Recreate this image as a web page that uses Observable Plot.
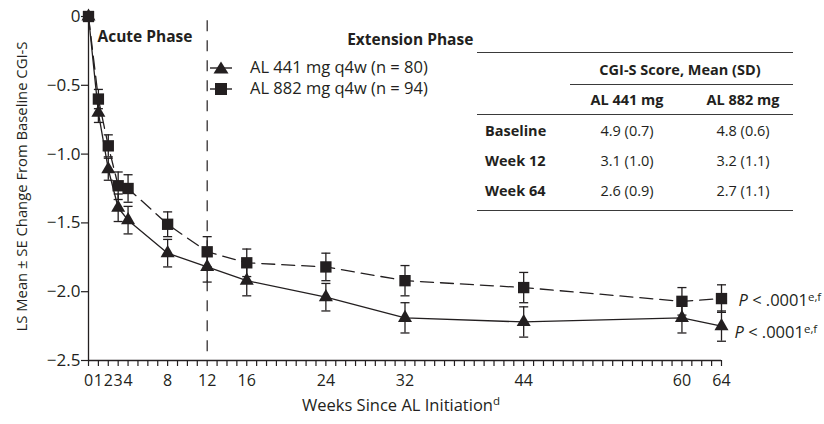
<!DOCTYPE html>
<html><head><meta charset="utf-8">
<script src="https://cdn.jsdelivr.net/npm/d3@7"></script>
<script src="https://cdn.jsdelivr.net/npm/@observablehq/plot@0.6"></script>
<style>
body{margin:0;background:#fff;font-family:"Open Sans",sans-serif;color:#231f20}
#wrap{position:relative;width:824px;height:424px;overflow:hidden}
.ov{position:absolute;white-space:nowrap;line-height:1}
.rule{position:absolute;height:0;border-top:1.6px solid #3a3a3a}
</style></head><body><div id="wrap"></div>
<script>
// ---- data ----
const weeks = [0, 1, 2, 3, 4, 8, 12, 16, 24, 32, 44, 60, 64];
const al441Mean = [0, -0.70, -1.11, -1.39, -1.48, -1.72, -1.82, -1.92, -2.04, -2.19, -2.22, -2.19, -2.25];
const al441SE   = [0, 0.07, 0.08, 0.10, 0.10, 0.10, 0.11, 0.11, 0.10, 0.11, 0.11, 0.11, 0.11];
const al882Mean = [0, -0.60, -0.94, -1.23, -1.25, -1.51, -1.71, -1.79, -1.82, -1.92, -1.97, -2.07, -2.05];
const al882SE   = [0, 0.07, 0.08, 0.10, 0.10, 0.09, 0.11, 0.10, 0.10, 0.11, 0.11, 0.10, 0.10];
const xTickLabels = [0, 1, 2, 3, 4, 8, 12, 16, 24, 32, 44, 60, 64];
const xMinorTicks = d3.range(0, 65);
const yTicks = [0, -0.5, -1, -1.5, -2, -2.5];
const seriesNames = ["AL 441 mg q4w (n = 80)", "AL 882 mg q4w (n = 94)"];
const phaseLabels = ["Acute Phase", "Extension Phase"];
const pLabels = ["P < .0001", "P < .0001"];
const xTitle = "Weeks Since AL Initiation";
const yTitle = "LS Mean \u00b1 SE Change From Baseline CGI-S";
const tableTitle = "CGI-S Score, Mean (SD)";
const tableCols = ["AL 441 mg", "AL 882 mg"];
const tableRows = ["Baseline", "Week 12", "Week 64"];
const table441 = ["4.9 (0.7)", "3.1 (1.0)", "2.6 (0.9)"];
const table882 = ["4.8 (0.6)", "3.2 (1.1)", "2.7 (1.1)"];

const ink = "#231f20";
const mk = (means, ses) => weeks.map((w, i) => ({week: w, mean: means[i], se: ses[i], lo: means[i] - ses[i], hi: means[i] + ses[i]}));
const d441 = mk(al441Mean, al441SE);
const d882 = mk(al882Mean, al882SE);
const e441 = d441.filter(d => d.se > 0);
const e882 = d882.filter(d => d.se > 0);
const cap = {draw(ctx, size) { const w = Math.sqrt(size) / 2; ctx.moveTo(-w, 0); ctx.lineTo(w, 0); }};

const errMarks = (e) => [
  Plot.ruleX(e, {x: "week", y1: "lo", y2: "hi", stroke: ink, strokeWidth: 1.3}),
  Plot.dot(e, {x: "week", y: "lo", symbol: cap, r: 5.1, stroke: ink, strokeWidth: 1.3, fill: "none"}),
  Plot.dot(e, {x: "week", y: "hi", symbol: cap, r: 5.1, stroke: ink, strokeWidth: 1.3, fill: "none"})
];

const chart = Plot.plot({
  width: 824, height: 424,
  marginLeft: 88, marginRight: 103, marginTop: 16, marginBottom: 64,
  x: {domain: [0, 64]},
  y: {domain: [-2.5, 0]},
  style: {fontFamily: "Open Sans", fontSize: "16px", color: ink, background: "white", overflow: "visible"},
  marks: [
    Plot.ruleX([12], {y1: -0.03, y2: -2.5, stroke: ink, strokeWidth: 1.2, strokeDasharray: "11,9"}),
    Plot.axisX(xMinorTicks, {tickSize: 6, tickFormat: () => "", label: null, stroke: ink, strokeWidth: 1.2}),
    Plot.axisX(xTickLabels, {tickSize: 0, tickPadding: 14, fontSize: 16, label: null, fill: ink}),
    Plot.axisY(yTicks, {tickSize: 7, tickPadding: 1, fontSize: 17, label: null, stroke: ink, strokeWidth: 1.2, fill: ink,
      tickFormat: d => d === 0 ? "0" : d3.format(".1f")(d)}),
    Plot.ruleX([0], {y1: 0, y2: -2.5, stroke: ink, strokeWidth: 1.3}),
    Plot.ruleY([-2.5], {x1: 0, x2: 64, stroke: ink, strokeWidth: 1.3}),
    Plot.line(d441, {x: "week", y: "mean", stroke: ink, strokeWidth: 1.3}),
    Plot.line(d882, {x: "week", y: "mean", stroke: ink, strokeWidth: 1.3, strokeDasharray: "13,7"}),
    ...errMarks(e441),
    ...errMarks(e882),
    Plot.dot(d441, {x: "week", y: "mean", symbol: "triangle", r: 5.2, fill: ink, stroke: "none"}),
    Plot.dot(d882, {x: "week", y: "mean", symbol: "square", r: 6.4, fill: ink, stroke: "none"}),
    Plot.text([phaseLabels[0]], {x: 0, frameAnchor: "top", dx: 9, dy: 14, textAnchor: "start", fontWeight: "bold", fontSize: 15.5, fill: ink, text: d => d}),
    Plot.text([phaseLabels[1]], {x: 12, frameAnchor: "top", dx: 140, dy: 17, textAnchor: "start", fontWeight: "bold", fontSize: 15.5, fill: ink, text: d => d}),
    Plot.text([{x: 64, y: al882Mean[12], t: pLabels[1]}], {x: "x", y: "y", text: "t", dx: 17, dy: 2, textAnchor: "start", fontSize: 16.5, fill: ink}),
    Plot.text([{x: 64, y: al441Mean[12], t: pLabels[0]}], {x: "x", y: "y", text: "t", dx: 13, dy: 7, textAnchor: "start", fontSize: 16.5, fill: ink}),
    Plot.text([xTitle], {frameAnchor: "bottom", dx: -4, dy: 50, fontSize: 16.5, fill: ink, text: d => d}),
    Plot.text([yTitle], {frameAnchor: "left", rotate: -90, textAnchor: "middle", dx: -66, dy: -2, fontSize: 14.8, fill: ink, text: d => d})
  ]
});

const wrap = document.getElementById("wrap");
wrap.appendChild(chart);

// rich text: italic P, superscripts
d3.select(chart).selectAll("text").each(function () {
  const t = this.textContent;
  const s = d3.select(this);
  if (t === xTitle) {
    s.append("tspan").attr("dy", "-0.45em").attr("font-size", "11.5px").text("d");
  } else if (t === pLabels[0]) {
    s.text(null);
    s.append("tspan").attr("font-style", "italic").text("P");
    s.append("tspan").text(" < .0001");
    s.append("tspan").attr("dy", "-0.45em").attr("font-size", "11.5px").text("e,f");
  }
});

// legend overlay
const leg = document.createElement("div");
leg.className = "ov";
leg.style.left = "208px"; leg.style.top = "57px";
seriesNames.forEach((name, i) => {
  const row = document.createElement("div");
  row.style.cssText = "display:flex;align-items:center;height:21px;font-size:16.5px";
  const sym = i === 0
    ? `<svg width="42" height="20"><line x1="2" x2="24" y1="10" y2="10" stroke="${ink}" stroke-width="1.4"/><path d="M13,3.5 L20.5,15.5 L5.5,15.5Z" fill="${ink}"/></svg>`
    : `<svg width="42" height="20"><line x1="2" x2="24" y1="10" y2="10" stroke="${ink}" stroke-width="1.4"/><rect x="7" y="4" width="12" height="12" fill="${ink}"/></svg>`;
  row.innerHTML = sym + `<span>${name}</span>`;
  leg.appendChild(row);
});
wrap.appendChild(leg);

// table overlay
function addText(txt, x, y, anchor, bold, size) {
  const el = document.createElement("div");
  el.className = "ov";
  el.textContent = txt;
  el.style.fontSize = size + "px";
  el.style.fontWeight = bold ? "bold" : "normal";
  el.style.top = (y - size * 0.5) + "px";
  if (anchor === "middle") { el.style.left = x + "px"; el.style.transform = "translateX(-50%)"; }
  else el.style.left = x + "px";
  wrap.appendChild(el);
}
function addRule(x1, x2, y) {
  const el = document.createElement("div");
  el.className = "rule";
  el.style.left = x1 + "px"; el.style.width = (x2 - x1) + "px"; el.style.top = (y - 0.8) + "px";
  wrap.appendChild(el);
}
addRule(477, 793, 53);
addRule(570, 793, 85);
addRule(477, 793, 115);
addRule(477, 793, 211);
addText(tableTitle, 680, 70, "middle", true, 14.5);
addText(tableCols[0], 627, 100, "middle", true, 14.5);
addText(tableCols[1], 743, 100, "middle", true, 14.5);
tableRows.forEach((r, i) => {
  const y = 131 + i * 30;
  addText(r, 485, y, "start", true, 14.5);
  addText(table441[i], 627, y, "middle", false, 14.5);
  addText(table882[i], 743, y, "middle", false, 14.5);
});
</script></body></html>
